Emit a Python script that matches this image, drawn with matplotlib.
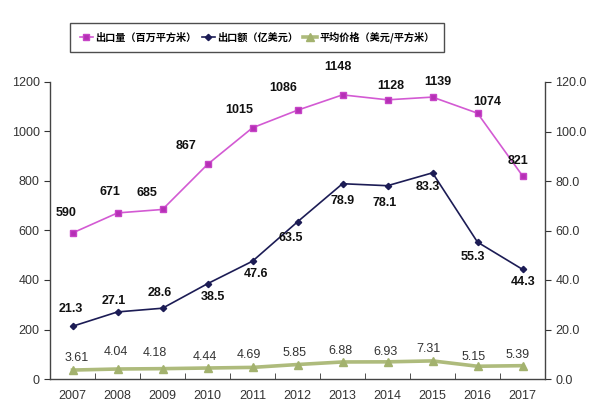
import matplotlib.pyplot as plt
import numpy as np

plt.rcParams['font.family'] = ['Liberation Sans', 'Noto Sans CJK SC', 'DejaVu Sans']

# datos
years = ['2007', '2008', '2009', '2010', '2011', '2012', '2013', '2014', '2015', '2016', '2017']
volume = [590, 671, 685, 867, 1015, 1086, 1148, 1128, 1139, 1074, 821]          # 出口量
value = [21.3, 27.1, 28.6, 38.5, 47.6, 63.5, 78.9, 78.1, 83.3, 55.3, 44.3]     # 出口额
price = [3.61, 4.04, 4.18, 4.44, 4.69, 5.85, 6.88, 6.93, 7.31, 5.15, 5.39]     # 平均价格

# desplazamientos de las etiquetas (pixeles)
vol_off = [(-6, 20), (-8, 21), (-16, 16), (-21, 18), (-13, 18), (-14, 22),
           (-5, 28), (3, 14), (5, 15), (10, 11), (-5, 15)]
val_off = [(-2, 17), (-4, 11), (-3, 15), (5, -13), (3, -13), (-7, -16),
           (0, -17), (-3, -17), (-5, -14), (-5, -15), (1, -13)]
pri_off = [(4, 12), (-2, 17), (-8, 16), (-3, 11), (-4, 12), (-3, 12),
           (-2, 11), (-2, 10), (-4, 12), (-4, 9), (-5, 11)]

x = np.arange(len(years))

fig = plt.figure(figsize=(6, 4.16), dpi=100)
ax = fig.add_axes([50/600, 1-379/416, 495/600, 297/416])
ax2 = ax.twinx()

l1, = ax.plot(x, volume, color='#d35ad3', lw=1.2, marker='s', ms=5,
              mfc='#b52fb5', mec='#c745c7', label='出口量（百万平方米）', zorder=3)
l2, = ax2.plot(x, value, color='#1c1c55', lw=1.2, marker='D', ms=3.2,
               mfc='#1c1c55', mec='#1c1c55', label='出口额（亿美元）', zorder=3)
l3, = ax2.plot(x, price, color='#aebb7c', lw=2.6, marker='^', ms=6,
               mfc='#a3b26e', mec='#a3b26e', label='平均价格（美元/平方米）', zorder=3)

for i in range(len(x)):
    ax.annotate(str(volume[i]), (x[i], volume[i]), xytext=vol_off[i],
                textcoords='offset pixels', ha='center', va='center',
                fontsize=9, fontweight='bold', color='#111111')
    ax2.annotate(f'{value[i]:.1f}', (x[i], value[i]), xytext=val_off[i],
                 textcoords='offset pixels', ha='center', va='center',
                 fontsize=9, fontweight='bold', color='#111111')
    ax2.annotate(f'{price[i]:.2f}', (x[i], price[i]), xytext=pri_off[i],
                 textcoords='offset pixels', ha='center', va='center',
                 fontsize=9, color='#333333')

ax.set_xlim(-0.5, len(x) - 0.5)
ax.set_ylim(0, 1200)
ax2.set_ylim(0, 120)
ax.set_yticks(range(0, 1201, 200))
ax2.set_yticks(range(0, 121, 20))
ax2.set_yticklabels([f'{v:.1f}' for v in range(0, 121, 20)])
ax.set_xticks(x)
ax.set_xticklabels(years)
ax.set_xticks(np.arange(0.5, len(x) - 1, 1), minor=True)
ax.tick_params(axis='x', which='major', length=0, pad=8, labelsize=9, labelcolor='#333333')
ax.tick_params(axis='x', which='minor', length=4, direction='in', color='#333333')
ax.tick_params(axis='y', length=4, labelsize=9, labelcolor='#333333', color='#333333')
ax2.tick_params(axis='y', length=4, labelsize=9, labelcolor='#333333', color='#333333')

for a in (ax, ax2):
    a.spines['top'].set_visible(False)
    for s in a.spines.values():
        s.set_color('#444444')
        s.set_linewidth(1)
ax.spines['right'].set_visible(False)
ax2.spines['left'].set_visible(False)
ax2.spines['bottom'].set_visible(False)

leg = fig.legend(handles=[l1, l2, l3], loc='center', bbox_to_anchor=(257/600, 1-37.5/416),
                 ncol=3, fontsize=7.3, frameon=True, fancybox=False, handlelength=1.3,
                 handletextpad=0.25, columnspacing=0.5, borderpad=0.9, borderaxespad=0)
leg.get_frame().set_edgecolor('#222222')
leg.get_frame().set_linewidth(1)
for t in leg.get_texts():
    t.set_family(['Noto Sans CJK SC', 'DejaVu Sans'])
    t.set_fontweight('bold')

fig.savefig('out.png', dpi=100)
